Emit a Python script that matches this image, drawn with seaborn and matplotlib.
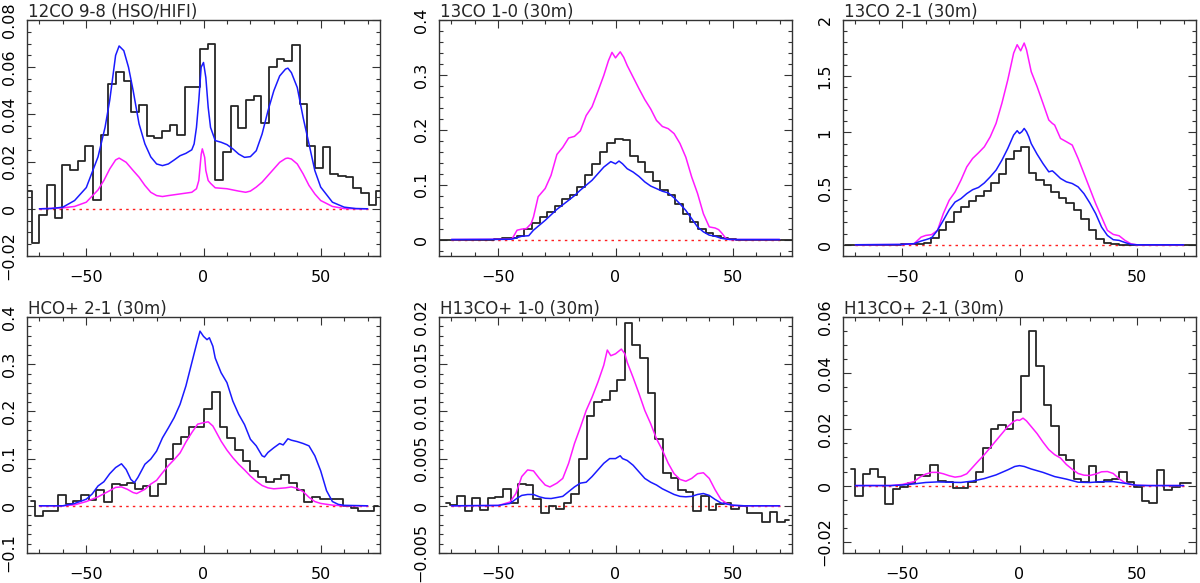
import numpy as np
import seaborn as sns
import matplotlib
matplotlib.use("Agg")
import matplotlib.pyplot as plt
from matplotlib.ticker import MultipleLocator, FuncFormatter

# ---------------- data ----------------
titles = ["12CO 9-8 (HSO/HIFI)", "13CO 1-0 (30m)", "13CO 2-1 (30m)",
          "HCO+ 2-1 (30m)", "H13CO+ 1-0 (30m)", "H13CO+ 2-1 (30m)"]

model_range = [-70, 70]
baseline = [0, 0]

# 12CO 9-8
co98_v0, co98_dv = -75.0, 3.27
co98_obs = [0.0077, -0.0144, -0.0025, 0.0101, -0.0039, 0.0186, 0.0165, 0.0204, 0.0265, 0.0039,
            0.0313, 0.0528, 0.058, 0.0542, 0.041, 0.044, 0.0308, 0.030, 0.0331, 0.0355,
            0.0313, 0.0514, 0.0517, 0.0679, 0.0697, 0.012, 0.0242, 0.0437, 0.0341, 0.0462,
            0.0479, 0.0362, 0.0599, 0.0634, 0.0625, 0.0693, 0.0446, 0.0265, 0.0172, 0.026,
            0.0148, 0.0138, 0.0134, 0.0087, 0.0068, 0.0017, 0.0077]
co98_vb = [-70, -65, -60, -55, -50, -45, -42, -40, -37.5, -36, -34, -32, -30, -27.5, -25,
           -22.5, -20, -17.5, -15, -12.5, -10, -7.5, -5, -4, -3, -2, -1, 0, 1, 2, 3, 4, 5,
           7.5, 10, 12.5, 15, 17.5, 20, 22.5, 25, 27.5, 30, 32.5, 35, 36, 37.5, 40, 42.5,
           45, 47.5, 50, 55, 60, 65, 70]
co98_blue = [0, 0.0001, 0.0007, 0.0035, 0.009, 0.022, 0.0345, 0.046, 0.065, 0.069, 0.067,
             0.06, 0.05, 0.036, 0.0275, 0.022, 0.019, 0.0183, 0.019, 0.0207, 0.0225, 0.0235,
             0.025, 0.0275, 0.0345, 0.046, 0.06, 0.062, 0.0556, 0.043, 0.0345, 0.0317, 0.0289,
             0.0282, 0.0272, 0.0254, 0.0232, 0.0218, 0.0221, 0.0246, 0.0317, 0.0415, 0.05,
             0.0563, 0.0592, 0.0596, 0.0577, 0.0514, 0.0387, 0.0275, 0.0162, 0.0092, 0.0028,
             0.0007, 0.0001, 0]
co98_vm = [-70, -60, -55, -50, -45, -42.5, -40, -37.5, -36, -33, -30, -27.5, -25, -22.5, -20,
           -17.5, -15, -10, -5, -3, -2, -1, -0.5, 0.5, 1, 2, 3, 5, 10, 15, 18, 20, 22.5, 25,
           27.5, 30, 32.5, 35, 36, 37.5, 40, 42.5, 45, 47.5, 50, 55, 60, 70]
co98_mag = [0, 0.0004, 0.001, 0.0028, 0.008, 0.012, 0.0169, 0.0207, 0.0215, 0.0197, 0.0162,
            0.0134, 0.0099, 0.007, 0.0056, 0.0052, 0.0056, 0.0063, 0.007, 0.0085, 0.012, 0.023,
            0.0254, 0.0218, 0.0162, 0.012, 0.0108, 0.0089, 0.0085, 0.0075, 0.007, 0.0075,
            0.0092, 0.0113, 0.0141, 0.0169, 0.0197, 0.0213, 0.0215, 0.0211, 0.019, 0.0148,
            0.0099, 0.0063, 0.0035, 0.001, 0.0001, 0]

# 13CO 1-0
c13a_v0, c13a_dv = -75.88, 3.22
c13a_obs = [0, 0, 0, 0, 0, 0, 0, 0, 0.001, 0.002, 0.003, 0.007, 0.02, 0.031, 0.041, 0.051,
            0.062, 0.073, 0.082, 0.0957, 0.117, 0.138, 0.159, 0.175, 0.184, 0.181, 0.153,
            0.141, 0.123, 0.106, 0.09, 0.0805, 0.065, 0.047, 0.032, 0.02, 0.011, 0.006, 0.002,
            0.001, 0, 0, 0, 0, 0, 0, 0, 0]
c13a_vb = [-70, -50, -45, -44, -40, -37, -35, -30, -25, -20, -17.5, -15, -10, -5, -2, 0, 1.5,
           3, 5, 7.5, 10, 12.5, 15, 20, 22.5, 25, 27.5, 30, 32.5, 35, 37.5, 40, 42.5, 45,
           47.5, 50, 70]
c13a_blue = [0, 0.0003, 0.0005, 0.001, 0.006, 0.007, 0.017, 0.035, 0.055, 0.0715, 0.08, 0.09,
             0.108, 0.132, 0.142, 0.138, 0.143, 0.138, 0.129, 0.123, 0.115, 0.105, 0.0975,
             0.088, 0.085, 0.076, 0.065, 0.053, 0.038, 0.023, 0.014, 0.008, 0.006, 0.0024,
             0.0006, 0, 0]
c13a_vm = [-70, -45, -44, -42, -40, -38, -36, -35, -33, -30, -27.5, -25, -22.5, -20, -17.5,
           -15, -12.5, -10, -7.5, -5, -3, -1.5, 0, 2, 3.5, 5, 7.5, 10, 12.5, 15, 17.5, 20,
           22.5, 25, 27.5, 30, 32.5, 35, 37.5, 40, 42.5, 44, 45.5, 47, 48.5, 70]
c13a_mag = [0, 0.0005, 0.002, 0.017, 0.019, 0.02, 0.029, 0.041, 0.078, 0.093, 0.117, 0.155,
            0.168, 0.185, 0.188, 0.198, 0.226, 0.242, 0.27, 0.299, 0.326, 0.341, 0.331, 0.342,
            0.332, 0.317, 0.296, 0.275, 0.255, 0.238, 0.217, 0.206, 0.202, 0.193, 0.175, 0.15,
            0.114, 0.084, 0.047, 0.023, 0.021, 0.018, 0.011, 0.0024, 0, 0]

# 13CO 2-1
c13b_v0, c13b_dv = -74.5, 3.2
c13b_obs = [0, 0, 0, 0, 0, 0, 0, 0.002, 0.003, 0.005, 0.008, 0.018, 0.062, 0.128, 0.2, 0.29,
            0.34, 0.387, 0.43, 0.48, 0.55, 0.634, 0.76, 0.836, 0.872, 0.64, 0.574, 0.53, 0.47,
            0.42, 0.372, 0.306, 0.232, 0.128, 0.054, 0.015, 0.006, 0.002, 0, 0, 0, 0, 0, 0,
            0, 0, 0, 0]
c13b_vb = [-70, -50, -45, -42, -40, -37.5, -35, -32.5, -30, -27.5, -25, -22.5, -20, -17.5,
           -15, -12.5, -10, -7.5, -5, -2.5, -1, 0, 1, 2, 3, 4, 5, 7.5, 10, 12.5, 14, 15, 17.5,
           20, 22.5, 25, 27.5, 30, 32.5, 35, 37.5, 40, 42.5, 45, 47.5, 50, 70]
c13b_blue = [0, 0.003, 0.01, 0.033, 0.045, 0.062, 0.128, 0.217, 0.31, 0.38, 0.41, 0.455, 0.49,
             0.51, 0.55, 0.604, 0.664, 0.753, 0.857, 0.976, 1.015, 0.99, 1.006, 1.035, 1.006,
             0.96, 0.9, 0.806, 0.723, 0.649, 0.658, 0.64, 0.59, 0.56, 0.545, 0.515, 0.455,
             0.372, 0.277, 0.158, 0.083, 0.045, 0.039, 0.02, 0.003, 0, 0]
c13b_vm = [-70, -50, -45, -42, -40, -37.5, -35, -32.5, -30, -27.5, -25, -22.5, -20, -17.5,
           -15, -12.5, -10, -7.5, -5, -2.5, -1, 0.5, 2, 3, 5, 7.5, 10, 12.5, 14, 15, 17.5, 20,
           22.5, 25, 27.5, 30, 32.5, 35, 37.5, 40, 42.5, 45, 47.5, 50, 70]
c13b_mag = [0, 0.002, 0.009, 0.068, 0.083, 0.09, 0.128, 0.277, 0.396, 0.47, 0.574, 0.693,
            0.768, 0.818, 0.872, 0.96, 1.08, 1.26, 1.467, 1.705, 1.78, 1.726, 1.795, 1.735,
            1.54, 1.408, 1.26, 1.11, 1.08, 1.065, 0.946, 0.917, 0.887, 0.768, 0.634, 0.5,
            0.366, 0.247, 0.128, 0.092, 0.08, 0.039, 0.009, 0, 0]

# HCO+ 2-1
hco_v0, hco_dv = -73.6, 3.286
hco_obs = [0.011, -0.021, -0.012, -0.011, 0.023, 0.0035, 0.011, 0.023, 0.012, 0.033,
           0.0085, 0.047, 0.044, 0.049, 0.035, 0.042, 0.021, 0.046, 0.0986, 0.13,
           0.146, 0.168, 0.168, 0.206, 0.242, 0.168, 0.144, 0.118, 0.094, 0.074,
           0.06, 0.051, 0.056, 0.065, 0.049, 0.033, 0.009, 0.019, 0.014, 0.015,
           0.015, 0.0, -0.005, -0.0106, -0.0106, 0.0]
hco_vb = [-70, -60, -55, -50, -47.5, -45, -42.5, -40, -37.5, -35, -33, -31, -29.5, -28, -25,
          -22.5, -20, -17.5, -15, -12.5, -10, -7.5, -5, -3, -1.5, 0, 1.5, 2.5, 4, 5, 7.5, 10,
          12.5, 15, 17.5, 20, 22.5, 25, 26, 27.5, 30, 32.5, 34, 36, 37.5, 40, 42.5, 45, 47.5,
          50, 52.5, 55, 57.5, 60, 70]
hco_blue = [0, 0, 0.005, 0.014, 0.025, 0.042, 0.051, 0.068, 0.081, 0.089, 0.077, 0.056, 0.049,
            0.06, 0.088, 0.099, 0.116, 0.144, 0.165, 0.187, 0.215, 0.254, 0.303, 0.342, 0.37,
            0.359, 0.352, 0.356, 0.338, 0.313, 0.282, 0.261, 0.222, 0.194, 0.172, 0.141,
            0.127, 0.106, 0.1035, 0.113, 0.123, 0.132, 0.129, 0.142, 0.139, 0.136, 0.132,
            0.127, 0.106, 0.074, 0.032, 0.009, 0.003, 0.001, 0]
hco_vm = [-70, -60, -55, -50, -45, -40, -37.5, -35, -32.5, -30, -28.5, -25, -22.5, -20, -17.5,
          -15, -12.5, -10, -7.5, -5, -2.5, 0, 2, 4, 5, 7.5, 10, 12.5, 15, 17.5, 20, 22.5, 25,
          27.5, 30, 35, 37.5, 40, 42.5, 45, 47.5, 50, 55, 60, 70]
hco_mag = [0, 0, 0.002, 0.009, 0.019, 0.032, 0.039, 0.04, 0.035, 0.028, 0.026, 0.035, 0.046,
           0.054, 0.07, 0.085, 0.098, 0.112, 0.135, 0.155, 0.173, 0.176, 0.178, 0.169, 0.16,
           0.137, 0.118, 0.102, 0.088, 0.076, 0.063, 0.052, 0.043, 0.038, 0.036, 0.038, 0.04,
           0.037, 0.03, 0.018, 0.009, 0.005, 0.0014, 0, 0]

# H13CO+ 1-0
h13a_v0, h13a_dv = -72.4, 3.25
h13a_obs = [0.0003, 0.0001, 0.001, -0.0005, 0.0008, -0.0004, 0.00085, 0.00095, 0.0018, 0.00025,
            0.0023, 0.0022, 0.0007, -0.00074, 0.0, -0.00035, 0.00025, 0.0012, 0.005, 0.0095,
            0.011, 0.0112, 0.0122, 0.0133, 0.0194, 0.017, 0.0157, 0.012, 0.0071, 0.0035,
            0.0029, 0.0017, 0.0015, -0.00056, 0.001, -0.00046, 0.00018, 0.00025, -0.0003, 0.0,
            -0.00074, -0.0008, -0.0017, -0.00063, -0.0017, -0.0015]
h13a_vb = [-70, -50, -45, -42, -40, -37.5, -35, -32.5, -30, -27.5, -25, -22.5, -20, -17.5,
           -15, -12.5, -10, -7.5, -5, -2.5, 0, 2, 3, 5, 7.5, 10, 12.5, 15, 17.5, 20, 22.5, 25,
           27.5, 30, 32.5, 35, 37.5, 40, 42.5, 45, 50, 55, 70]
h13a_blue = [0, 0.00004, 0.00025, 0.0008, 0.0011, 0.0012, 0.0012, 0.00095, 0.0008, 0.00077,
             0.00088, 0.001, 0.0015, 0.002, 0.0024, 0.0025, 0.0031, 0.0038, 0.0045, 0.005,
             0.005, 0.0053, 0.005, 0.0048, 0.0043, 0.0036, 0.0029, 0.0025, 0.0022, 0.0018,
             0.0015, 0.0012, 0.001, 0.00095, 0.001, 0.0012, 0.0013, 0.0011, 0.00067, 0.0003,
             0.00007, 0, 0]
h13a_vm = [-70, -50, -45, -42.5, -40, -37.5, -35, -32.5, -30, -28, -25, -22.5, -20, -17.5,
           -15, -12.5, -10, -7.5, -5, -3.5, -2, 0, 2.5, 4, 5, 7.5, 10, 12.5, 15, 17.5, 20,
           22.5, 25, 27.5, 30, 32.5, 35, 37.5, 40, 42.5, 45, 47.5, 50, 55, 70]
h13a_mag = [0, 0.00003, 0.0004, 0.0013, 0.0031, 0.0038, 0.0037, 0.0029, 0.0022, 0.002, 0.0024,
            0.0029, 0.0045, 0.0066, 0.0083, 0.0101, 0.0115, 0.0131, 0.0149, 0.0165, 0.0159,
            0.0161, 0.0166, 0.0161, 0.0152, 0.0136, 0.0119, 0.0101, 0.0087, 0.0071, 0.0059,
            0.0045, 0.0034, 0.0028, 0.0026, 0.0029, 0.0034, 0.0035, 0.0029, 0.0017, 0.00067,
            0.00025, 0.00003, 0, 0]

# H13CO+ 2-1
h13b_v0, h13b_dv = -71.8, 3.22
h13b_obs = [0.006, -0.0036, 0.0042, 0.0059, 0.0032, -0.0067, -0.0013, -0.0006, 0.0008, 0.0037,
            0.0035, 0.0072, 0.0017, 0.0014, -0.001, -0.001, 0.0012, 0.005, 0.0134, 0.0203,
            0.0215, 0.0203, 0.0262, 0.039, 0.055, 0.0425, 0.0286, 0.0212, 0.0108, 0.0092,
            0.0023, 0.0011, 0.0068, 0.0014, 0.002, 0.0023, 0.0047, 0.0014, -0.0004, -0.0055,
            -0.0063, 0.0054, -0.0016, -0.0004, 0.0008, 0.0008]
h13b_vb = [-70, -55, -50, -45, -40, -35, -30, -25, -20, -15, -10, -5, -2, 0, 2, 5, 10, 15, 20,
           25, 30, 35, 40, 45, 50, 55, 70]
h13b_blue = [0, 0, 0.0002, 0.0006, 0.0011, 0.0013, 0.0012, 0.0011, 0.0016, 0.0025, 0.0038,
             0.0056, 0.0068, 0.0071, 0.0068, 0.0059, 0.0047, 0.0032, 0.0023, 0.0012, 0.0011,
             0.0014, 0.0014, 0.0008, 0.0001, 0, 0]
h13b_vm = [-70, -55, -50, -45, -42.5, -40, -37.5, -35, -32.5, -30, -27.5, -25, -22.5, -20,
           -17.5, -15, -12.5, -10, -7.5, -5, -2.5, -1, 0, 1.5, 3, 5, 7.5, 10, 12.5, 15, 17.5,
           20, 22.5, 25, 27.5, 30, 32.5, 35, 37.5, 40, 42.5, 45, 47.5, 50, 55, 70]
h13b_mag = [0, 0, 0.0004, 0.0014, 0.003, 0.0041, 0.0047, 0.0047, 0.0042, 0.0035, 0.003, 0.0033,
            0.0042, 0.0065, 0.0088, 0.011, 0.0135, 0.016, 0.0185, 0.021, 0.0228, 0.0234,
            0.0232, 0.024, 0.023, 0.021, 0.0185, 0.0155, 0.0128, 0.011, 0.0098, 0.0075,
            0.0058, 0.0043, 0.0037, 0.0036, 0.0041, 0.0049, 0.005, 0.0043, 0.0024, 0.001,
            0.0004, 0.0001, 0, 0]

# axis settings per panel: y limits, major and minor y tick step
ylims = [(-0.02, 0.08), (-0.03, 0.4), (-0.1, 2.0), (-0.1, 0.4), (-0.005, 0.02), (-0.024, 0.06)]
ymajor = [0.02, 0.1, 0.5, 0.1, 0.005, 0.02]
yminor = [0.005, 0.02, 0.1, 0.02, 0.001, 0.005]

panels = [
    (co98_v0, co98_dv, co98_obs, co98_vb, co98_blue, co98_vm, co98_mag),
    (c13a_v0, c13a_dv, c13a_obs, c13a_vb, c13a_blue, c13a_vm, c13a_mag),
    (c13b_v0, c13b_dv, c13b_obs, c13b_vb, c13b_blue, c13b_vm, c13b_mag),
    (hco_v0, hco_dv, hco_obs, hco_vb, hco_blue, hco_vm, hco_mag),
    (h13a_v0, h13a_dv, h13a_obs, h13a_vb, h13a_blue, h13a_vm, h13a_mag),
    (h13b_v0, h13b_dv, h13b_obs, h13b_vb, h13b_blue, h13b_vm, h13b_mag),
]

# ---------------- drawing ----------------
sns.set_style("ticks")
plt.rcParams['font.family'] = ['DejaVu Sans']
plt.rcParams['font.size'] = 11.5

W, H = 1200, 583
fig = plt.figure(figsize=(W / 100, H / 100), dpi=100)

col_left = [27, 439, 843]
row_bottom = [256, 553]
ax_w, ax_h = 353, 236

EDGE = '#333333'


def fmt(x, pos):
    s = f'{x:.6g}'
    if s in ('0', '-0'):
        return '0'
    return s.replace('-', '\u2212')


for i, (v0, dv, obs, vb, blue, vm, mag) in enumerate(panels):
    r, c = divmod(i, 3)
    rect = [col_left[c] / W, (H - row_bottom[r]) / H, ax_w / W, ax_h / H]
    ax = fig.add_axes(rect)

    obs_v = v0 + dv * np.arange(len(obs))

    sns.lineplot(x=model_range, y=baseline, ax=ax, color='#ff2020', lw=1.0,
                 dashes=False, linestyle=(0, (1.8, 3.0)), estimator=None, errorbar=None)
    sns.lineplot(x=obs_v, y=obs, ax=ax, color='#262626', lw=1.3, drawstyle='steps-mid',
                 estimator=None, errorbar=None)
    sns.lineplot(x=vm, y=mag, ax=ax, color='#ff1aff', lw=1.1, estimator=None, errorbar=None)
    sns.lineplot(x=vb, y=blue, ax=ax, color='#1a1aff', lw=1.1, estimator=None, errorbar=None)

    ax.set_xlim(-75.3, 75.3)
    ax.set_ylim(*ylims[i])
    ax.xaxis.set_major_locator(MultipleLocator(50))
    ax.xaxis.set_minor_locator(MultipleLocator(10))
    ax.yaxis.set_major_locator(MultipleLocator(ymajor[i]))
    ax.yaxis.set_minor_locator(MultipleLocator(yminor[i]))
    ax.xaxis.set_major_formatter(FuncFormatter(fmt))
    ax.yaxis.set_major_formatter(FuncFormatter(fmt))

    ax.tick_params(which='both', direction='in', top=True, right=True,
                   color=EDGE, width=0.8, labelcolor='black')
    ax.tick_params(which='major', length=6)
    ax.tick_params(which='minor', length=3)
    ax.tick_params(axis='x', pad=10, labelsize=11.5)
    ax.tick_params(axis='y', pad=7.5, labelsize=11.5, labelrotation=90)
    plt.setp(ax.get_yticklabels(), va='center')

    for sp in ax.spines.values():
        sp.set_color(EDGE)
        sp.set_linewidth(1.0)

    ax.set_xlabel('')
    ax.set_ylabel('')
    ax.text(0.003, 1.012, titles[i], transform=ax.transAxes, fontsize=12,
            ha='left', va='baseline')

fig.savefig('out.png', dpi=100)
